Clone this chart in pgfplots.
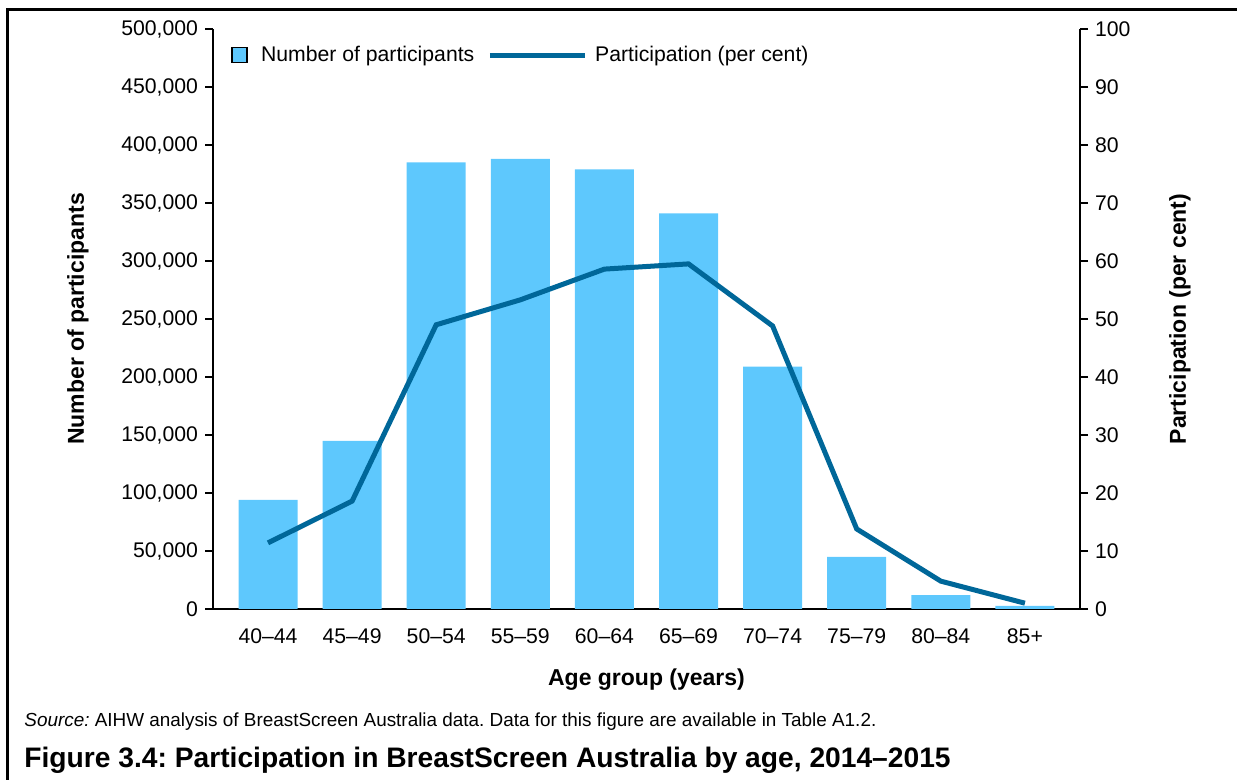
\documentclass[border=0pt]{standalone}
\usepackage{fontspec}
\setmainfont{Liberation Sans}
\usepackage{pgfplots}
\pgfplotsset{compat=1.18}
\definecolor{barblue}{RGB}{94,200,253}
\definecolor{lineblue}{RGB}{0,103,153}
\newcommand{\tickfont}{\fontsize{10.6}{12}\selectfont}
\newcommand{\labfont}{\fontsize{11.5}{13}\selectfont\bfseries}
\frenchspacing
\begin{document}
\begin{tikzpicture}
\useasboundingbox (0pt,0pt) rectangle (618.5pt,390pt);
\draw[line width=1.5pt] (3.5pt,-5pt) -- (3.5pt,385pt) -- (630pt,385pt);
\begin{axis}[
  at={(106.5pt,85.5pt)}, anchor=south west,
  scale only axis, width=433.5pt, height=290pt,
  xmin=-0.654, xmax=9.655, ymin=0, ymax=500000,
  axis x line*=bottom, axis y line*=left,
  axis line style={line width=1pt,-,black},
  xtick={0,1,2,3,4,5,6,7,8,9},
  xticklabels={40--44,45--49,50--54,55--59,60--64,65--69,70--74,75--79,80--84,85+},
  xtick style={draw=none},
  ytick={0,50000,100000,150000,200000,250000,300000,350000,400000,450000,500000},
  ytick style={line width=1pt,black},
  tick align=outside, major tick length=4pt,
  scaled y ticks=false,
  yticklabel style={/pgf/number format/.cd, fixed, 1000 sep={,}, assume math mode=true},
  tick label style={font=\tickfont},
  xticklabel style={yshift=-2.5pt},
  xlabel={Age group (years)},
  xlabel style={font=\labfont, at={(axis description cs:0.5,-0.1224)}, anchor=center},
  ylabel={Number of participants},
  ylabel style={font=\labfont, at={(axis description cs:-0.1557,0.5)}, anchor=center, rotate=0},
  legend columns=2,
  legend style={draw=none, fill=none, font=\tickfont, at={(axis description cs:0.0139,0.955)}, anchor=west,
    /tikz/every even column/.append style={column sep=4.5pt}},
  legend cell align=left,
]
\addplot[ybar, bar width=29.5pt, fill=barblue, draw=none,
  legend image code/.code={\draw[fill=barblue, draw=black, line width=0.6pt] (0pt,-3.75pt) rectangle (7.5pt,3.75pt); \path (12.5pt,0pt);}]
  coordinates {(0,94000) (1,145000) (2,385000) (3,388000) (4,379000) (5,341000) (6,209000) (7,45000) (8,12000) (9,2600)};
\addlegendentry{Number of participants}
\addlegendimage{legend image code/.code={\draw[lineblue, line width=2.5pt] (0pt,0pt) -- (47.5pt,0pt); \path (50.5pt,0pt);}}
\addlegendentry{Participation (per cent)}
\end{axis}
\begin{axis}[
  at={(106.5pt,85.5pt)}, anchor=south west,
  scale only axis, width=433.5pt, height=290pt,
  xmin=-0.654, xmax=9.655, ymin=0, ymax=100,
  axis x line=none, axis y line*=right,
  axis line style={line width=1pt,-,black},
  ytick={0,10,20,30,40,50,60,70,80,90,100},
  ytick style={line width=1pt,black},
  tick align=outside, major tick length=4pt,
  yticklabel style={/pgf/number format/assume math mode=true},
  tick label style={font=\tickfont},
  ylabel={Participation (per cent)},
  ylabel style={font=\labfont, at={(axis description cs:1.1153,0.5)}, anchor=center, rotate=0},
]
\addplot[lineblue, line width=2.5pt, mark=none]
  coordinates {(0,11.4) (1,18.6) (2,49.0) (3,53.3) (4,58.6) (5,59.5) (6,48.8) (7,13.8) (8,4.8) (9,1.0)};
\end{axis}
\node[anchor=west, inner sep=0pt] at (12pt,29pt) {\fontsize{9.45}{11}\selectfont\textit{Source:} AIHW analysis of BreastScreen Australia data. Data for this figure are available in Table A1.2.};
\node[anchor=west, inner sep=0pt] at (12pt,10pt) {\fontsize{14.1}{16}\selectfont\bfseries Figure 3.4: Participation in BreastScreen Australia by age, 2014--2015};
\end{tikzpicture}
\end{document}
